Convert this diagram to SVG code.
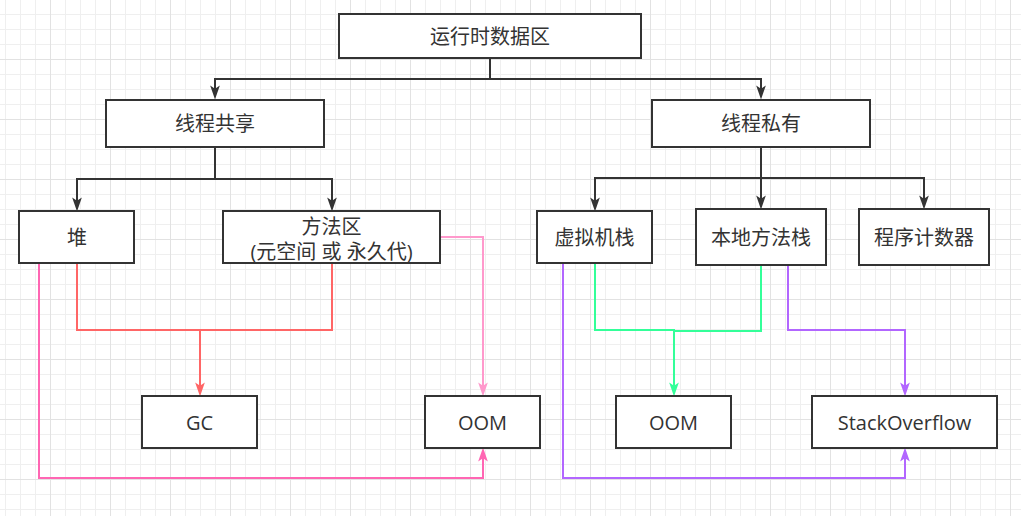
<svg xmlns="http://www.w3.org/2000/svg" width="1021" height="516" viewBox="0 0 1021 516">
<style>
.box{fill:#fff;stroke:#333;stroke-width:2}
.t{font-family:"Open Sans","Noto Sans CJK SC",sans-serif;font-size:20px;fill:#333;text-anchor:middle}
.c{fill:none;stroke-width:2}
.k{stroke:#333}
.red{stroke:#FF6666}
.pink{stroke:#FF66B3}
.lpink{stroke:#FF99CC}
.green{stroke:#33FF99}
.purple{stroke:#B266FF}
</style>
<defs>
<pattern id="grid" width="60" height="60" patternUnits="userSpaceOnUse">
<rect x="5" y="0" width="1" height="60" fill="#efefef"/>
<rect x="20" y="0" width="1" height="60" fill="#efefef"/>
<rect x="35" y="0" width="1" height="60" fill="#efefef"/>
<rect x="0" y="14" width="60" height="1" fill="#efefef"/>
<rect x="0" y="29" width="60" height="1" fill="#efefef"/>
<rect x="0" y="44" width="60" height="1" fill="#efefef"/>
<rect x="50" y="0" width="1" height="60" fill="#e2e2e2"/>
<rect x="0" y="59" width="60" height="1" fill="#e2e2e2"/>
</pattern>
<marker id="aK" markerUnits="userSpaceOnUse" markerWidth="14" markerHeight="10" viewBox="0 0 13 9" refX="7" refY="4.5" orient="auto"><path d="M0,0 L13,4.5 L0,9 L3,4.5 z" fill="#333"/></marker>
<marker id="aR" markerUnits="userSpaceOnUse" markerWidth="14" markerHeight="10" viewBox="0 0 13 9" refX="7" refY="4.5" orient="auto"><path d="M0,0 L13,4.5 L0,9 L3,4.5 z" fill="#FF6666"/></marker>
<marker id="aP" markerUnits="userSpaceOnUse" markerWidth="14" markerHeight="10" viewBox="0 0 13 9" refX="7" refY="4.5" orient="auto"><path d="M0,0 L13,4.5 L0,9 L3,4.5 z" fill="#FF66B3"/></marker>
<marker id="aL" markerUnits="userSpaceOnUse" markerWidth="14" markerHeight="10" viewBox="0 0 13 9" refX="7" refY="4.5" orient="auto"><path d="M0,0 L13,4.5 L0,9 L3,4.5 z" fill="#FF99CC"/></marker>
<marker id="aG" markerUnits="userSpaceOnUse" markerWidth="14" markerHeight="10" viewBox="0 0 13 9" refX="7" refY="4.5" orient="auto"><path d="M0,0 L13,4.5 L0,9 L3,4.5 z" fill="#33FF99"/></marker>
<marker id="aV" markerUnits="userSpaceOnUse" markerWidth="14" markerHeight="10" viewBox="0 0 13 9" refX="7" refY="4.5" orient="auto"><path d="M0,0 L13,4.5 L0,9 L3,4.5 z" fill="#B266FF"/></marker>
</defs>
<rect width="1021" height="516" fill="#fff"/>
<rect width="1021" height="516" fill="url(#grid)"/>
<g id="connectors">
<path class="c k" d="M490,58 V79 H215 V93" marker-end="url(#aK)"/>
<path class="c k" d="M490,79 H761 V93" marker-end="url(#aK)"/>
<path class="c k" d="M215,147 V179 H77 V205" marker-end="url(#aK)"/>
<path class="c k" d="M215,179 H332 V205" marker-end="url(#aK)"/>
<path class="c k" d="M761,147 V178 H595 V205" marker-end="url(#aK)"/>
<path class="c k" d="M761,178 V203" marker-end="url(#aK)"/>
<path class="c k" d="M761,178 H924 V203" marker-end="url(#aK)"/>
<path class="c red" d="M77,263 V330 H200 V390" marker-end="url(#aR)"/>
<path class="c red" d="M332,263 V330 H200" />
<path class="c pink" d="M39,263 V478 H483 V454" marker-end="url(#aP)"/>
<path class="c lpink" d="M441,237 H483 V390" marker-end="url(#aL)"/>
<path class="c green" d="M595,263 V330 H674 V390" marker-end="url(#aG)"/>
<path class="c green" d="M761,265 V331 H674" />
<path class="c purple" d="M563,263 V478 H905 V454" marker-end="url(#aV)"/>
<path class="c purple" d="M788,265 V330 H905 V390" marker-end="url(#aV)"/>
</g>
<g id="runtime"><rect class="box" x="339" y="14" width="302" height="44"/><text class="t" x="490" y="44">运行时数据区</text></g>
<g id="shared"><rect class="box" x="106" y="100" width="218" height="47"/><text class="t" x="215" y="131">线程共享</text></g>
<g id="private"><rect class="box" x="652" y="100" width="218" height="47"/><text class="t" x="761" y="131">线程私有</text></g>
<g id="heap"><rect class="box" x="19" y="211" width="115" height="52"/><text class="t" x="77" y="245">堆</text></g>
<g id="method"><rect class="box" x="223" y="211" width="217" height="52"/><text class="t" x="331.5" y="234">方法区</text><text class="t" x="331.5" y="259">(元空间 或 永久代)</text></g>
<g id="vmstack"><rect class="box" x="537" y="211" width="115" height="52"/><text class="t" x="594.5" y="245">虚拟机栈</text></g>
<g id="nativestack"><rect class="box" x="696" y="209" width="130" height="56"/><text class="t" x="761" y="245">本地方法栈</text></g>
<g id="pc"><rect class="box" x="859" y="209" width="130" height="56"/><text class="t" x="924" y="245">程序计数器</text></g>
<g id="gc"><rect class="box" x="142" y="396" width="115" height="52"/><text class="t" x="199.5" y="430">GC</text></g>
<g id="oom1"><rect class="box" x="425" y="396" width="115" height="52"/><text class="t" x="482.5" y="430">OOM</text></g>
<g id="oom2"><rect class="box" x="616" y="396" width="115" height="52"/><text class="t" x="673.5" y="430">OOM</text></g>
<g id="so"><rect class="box" x="812" y="396" width="185" height="52"/><text class="t" x="904.5" y="430">StackOverflow</text></g>
</svg>
